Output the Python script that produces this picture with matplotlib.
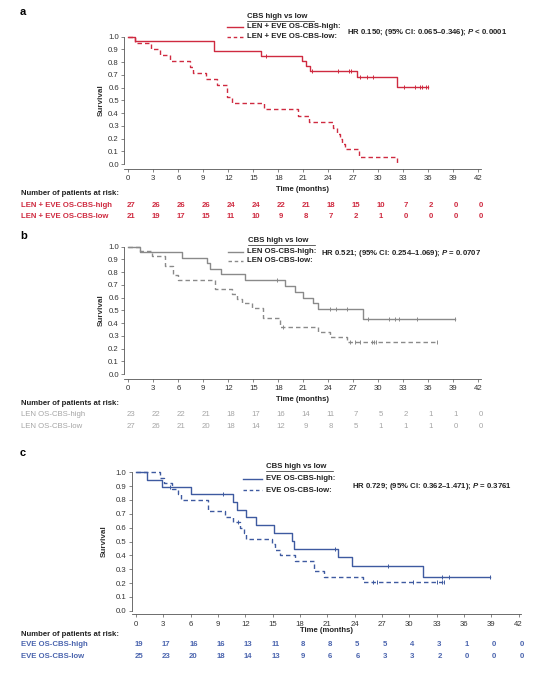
import numpy as np
import matplotlib
matplotlib.use("Agg")
import matplotlib.pyplot as plt
from matplotlib.lines import Line2D
import matplotlib.transforms as mtransforms

plt.rcParams['font.family'] = ['Liberation Sans', 'DejaVu Sans']
plt.rcParams['mathtext.fontset'] = 'custom'
plt.rcParams['mathtext.it'] = 'Liberation Sans:italic:bold'
plt.rcParams['mathtext.rm'] = 'Liberation Sans'

# ---------------- data ----------------
risk_times = list(range(0, 43, 3))

# Panel a: LEN + EVE
a_high_t = [0, 0.8, 10.3, 15.9, 20.9, 21.3, 21.8, 27.5, 32.2, 36.0]
a_high_s = [1.0, 0.963, 0.889, 0.852, 0.811, 0.771, 0.730, 0.686, 0.602, 0.602]
a_high_c = [16.5, 22.1, 25.2, 26.5, 26.7, 27.8, 28.6, 29.4, 33.1, 34.4, 35.0, 35.3, 35.7, 36.0]
a_low_t = [0, 0.8, 2.7, 3.8, 5.0, 7.4, 7.8, 9.3, 10.7, 11.8, 12.5, 16.3, 20.4, 21.7,
           24.6, 25.1, 25.4, 25.7, 26.0, 27.7, 32.2]
a_low_s = [1.0, 0.952, 0.905, 0.857, 0.810, 0.762, 0.714, 0.667, 0.619, 0.524, 0.476, 0.429,
           0.381, 0.333, 0.286, 0.238, 0.196, 0.155, 0.115, 0.058, 0.0]
a_low_c = []
a_risk_high = [27, 26, 26, 26, 24, 24, 22, 21, 18, 15, 10, 7, 2, 0, 0]
a_risk_low = [21, 19, 17, 15, 11, 10, 9, 8, 7, 2, 1, 0, 0, 0, 0]

# Panel b: LEN
b_high_t = [0, 1.4, 6.4, 9.4, 9.8, 11.1, 14.0, 18.8, 20.0, 21.0, 22.2, 22.8, 28.2, 39.2]
b_high_s = [1.0, 0.957, 0.913, 0.870, 0.826, 0.783, 0.739, 0.693, 0.647, 0.601, 0.555, 0.508, 0.435, 0.435]
b_high_c = [17.8, 24.2, 24.9, 26.2, 28.8, 31.3, 32.0, 32.5, 34.7, 39.2]
b_low_t = [0, 1.4, 2.8, 4.4, 5.4, 6.0, 10.4, 12.4, 13.0, 13.6, 14.8, 16.2, 18.2, 22.8, 24.2, 26.2, 37.0]
b_low_s = [1.0, 0.963, 0.926, 0.852, 0.778, 0.741, 0.667, 0.630, 0.593, 0.556, 0.519, 0.444,
           0.370, 0.330, 0.291, 0.250, 0.250]
b_low_c = [18.6, 26.6, 27.2, 27.8, 29.3, 29.5, 29.7, 37.0]
b_risk_high = [23, 22, 22, 21, 18, 17, 16, 14, 11, 7, 5, 2, 1, 1, 0]
b_risk_low = [27, 26, 21, 20, 18, 14, 12, 9, 8, 5, 1, 1, 1, 0, 0]

# Panel c: EVE
c_high_t = [0, 1.2, 2.9, 6.0, 10.6, 11.05, 12.1, 13.2, 15.1, 17.1, 17.3, 22.2, 23.7, 31.5, 38.9]
c_high_s = [1.0, 0.947, 0.895, 0.842, 0.786, 0.730, 0.674, 0.618, 0.562, 0.506, 0.449, 0.385, 0.321, 0.241, 0.241]
c_high_c = [3.7, 9.6, 21.8, 27.7, 33.6, 34.4, 38.9]
c_low_t = [0, 2.6, 3.1, 3.9, 4.6, 4.9, 7.9, 9.8, 10.6, 11.4, 11.9, 12.1, 14.9, 15.3, 15.8,
           17.5, 19.5, 20.6, 24.9, 33.8]
c_low_s = [1.0, 0.96, 0.92, 0.88, 0.84, 0.80, 0.72, 0.68, 0.64, 0.60, 0.56, 0.52, 0.48, 0.44,
           0.40, 0.36, 0.29, 0.245, 0.204, 0.204]
c_low_c = [11.2, 26.0, 26.4, 30.4, 33.0, 33.6, 33.8]
c_risk_high = [19, 17, 16, 16, 13, 11, 8, 8, 5, 5, 4, 3, 1, 0, 0]
c_risk_low = [25, 23, 20, 18, 14, 13, 9, 6, 6, 3, 3, 2, 0, 0, 0]

panels = [
    dict(letter='a', color='#cf2a40', tcolor='#cf2a40', rowbold=True,
         high=(a_high_t, a_high_s, a_high_c), low=(a_low_t, a_low_s, a_low_c),
         risk=(a_risk_high, a_risk_low),
         labels=('LEN + EVE OS-CBS-high:', 'LEN + EVE OS-CBS-low:'),
         rows=('LEN + EVE OS-CBS-high', 'LEN + EVE OS-CBS-low'),
         hr=r'HR 0.150; (95% CI: 0.065–0.346); $\it{P}$ < 0.0001'),
    dict(letter='b', color='#8a8a8a', tcolor='#a5a5a5', rowbold=False,
         high=(b_high_t, b_high_s, b_high_c), low=(b_low_t, b_low_s, b_low_c),
         risk=(b_risk_high, b_risk_low),
         labels=('LEN OS-CBS-high:', 'LEN OS-CBS-low:'),
         rows=('LEN OS-CBS-high', 'LEN OS-CBS-low'),
         hr=r'HR 0.521; (95% CI: 0.254–1.069); $\it{P}$ = 0.0707'),
    dict(letter='c', color='#3e5aa0', tcolor='#4a64ae', rowbold=True,
         high=(c_high_t, c_high_s, c_high_c), low=(c_low_t, c_low_s, c_low_c),
         risk=(c_risk_high, c_risk_low),
         labels=('EVE OS-CBS-high:', 'EVE OS-CBS-low:'),
         rows=('EVE OS-CBS-high', 'EVE OS-CBS-low'),
         hr=r'HR 0.729; (95% CI: 0.362–1.471); $\it{P}$ = 0.3761'),
]

# ---------------- layout (pixels) ----------------
W, H = 537, 681
def fx(px): return px / W
def fy(py): return 1 - py / H

layout = [
    dict(ax=(124.1, 34.2, 480.8, 168.5), xlim=(-0.5, 42.3), ylim=(-0.035, 1.02),
         letter=(20, 12), title=(247, 16.7), leg=(226.7, 243, 246.7, 26.7, 36.7),
         hr=(346.7, 32.5), ylab=(101, 100), time=190, hdr=193.7, r1=205.8, r2=216.8),
    dict(ax=(124.1, 244.2, 480.8, 378.5), xlim=(-0.5, 42.3), ylim=(-0.035, 1.02),
         letter=(20, 236), title=(247.7, 240), leg=(228, 243, 246.7, 251.7, 261.0),
         hr=(320.7, 253.3), ylab=(101, 310), time=399.5, hdr=403.5, r1=414.5, r2=426.5),
    dict(ax=(131.7, 469.5, 521.4, 614.2), xlim=(-0.47, 42.3), ylim=(-0.025, 1.02),
         letter=(20, 453), title=(265.7, 466.7), leg=(243, 261.7, 265.7, 479, 490),
         hr=(351.7, 486.7), ylab=(104, 541), time=631, hdr=634, r1=644.7, r2=656.7),
]

fig = plt.figure(figsize=(W / 100, H / 100), dpi=100)
FS = 5.6
DASH = (0, (3.2, 2.2))

for p, L in zip(panels, layout):
    x0, y0, x1, y1 = L['ax']
    ax = fig.add_axes([fx(x0), fy(y1), (x1 - x0) / W, (y1 - y0) / H])
    ax.set_xlim(*L['xlim'])
    ax.set_ylim(*L['ylim'])
    for s in ['top', 'right']:
        ax.spines[s].set_visible(False)
    for s in ['left', 'bottom']:
        ax.spines[s].set_color('#555555')
        ax.spines[s].set_linewidth(0.6)
    ax.spines['left'].set_bounds(0, 1.0)
    ax.spines['bottom'].set_bounds(L['xlim'][0], 42.3)
    ax.set_xticks(risk_times)
    ax.set_yticks(np.round(np.arange(0, 1.01, 0.1), 1))
    ax.set_yticklabels([f'{v:.1f}' for v in np.arange(0, 1.01, 0.1)])
    ax.tick_params(axis='both', direction='out', length=2.2, width=0.5, color='#555555',
                   labelsize=FS, labelcolor='#333333', pad=1.5)
    ax.tick_params(axis='x', pad=2.5)

    for key, ls in (('high', '-'), ('low', DASH)):
        t, s, c = p[key]
        ax.step(t, s, where='post', color=p['color'], lw=1.0, linestyle=ls)
        if c:
            cy = [s[np.searchsorted(t, ci, side='right') - 1] for ci in c]
            ax.plot(c, cy, linestyle='none', marker='|', markersize=3.5,
                    markeredgewidth=0.7, color=p['color'])

    # panel letter
    fig.text(fx(L['letter'][0]), fy(L['letter'][1]), p['letter'], fontsize=8,
             fontweight='bold', va='center', ha='left')
    # legend title with underline
    tx, ty = L['title']
    fig.text(fx(tx), fy(ty), 'CBS high vs low', fontsize=FS, fontweight='bold',
             va='center', ha='left', color='#222222')
    fig.add_artist(Line2D([fx(tx), fx(tx + 67)], [fy(ty + 4.5), fy(ty + 4.5)],
                          color='#222222', lw=0.5, transform=fig.transFigure))
    lx0, lx1, ltx, ly1, ly2 = L['leg']
    fig.add_artist(Line2D([fx(lx0), fx(lx1)], [fy(ly1), fy(ly1)], color=p['color'], lw=1.0,
                          transform=fig.transFigure))
    fig.add_artist(Line2D([fx(lx0), fx(lx1)], [fy(ly2), fy(ly2)], color=p['color'], lw=1.0,
                          linestyle=(0, (2.5, 2.0)), transform=fig.transFigure))
    fig.text(fx(ltx), fy(ly1), p['labels'][0], fontsize=FS, fontweight='bold', va='center',
             ha='left', color='#222222')
    fig.text(fx(ltx), fy(ly2), p['labels'][1], fontsize=FS, fontweight='bold', va='center',
             ha='left', color='#222222')
    fig.text(fx(L['hr'][0]), fy(L['hr'][1]), p['hr'], fontsize=FS, fontweight='bold',
             va='center', ha='left', color='#222222')

    # axis labels
    fig.text(fx(L['ylab'][0]), fy(L['ylab'][1]), 'Survival', fontsize=FS + 0.3, rotation=90,
             va='center', ha='center', fontweight='bold', color='#333333')
    fig.text(fx((x0 + x1) / 2), fy(L['time']), 'Time (months)', fontsize=FS, fontweight='bold',
             va='center', ha='center', color='#222222')

    # risk table
    fig.text(fx(21), fy(L['hdr']), 'Number of patients at risk:', fontsize=FS,
             fontweight='bold', va='center', ha='left', color='#222222')
    tr = mtransforms.blended_transform_factory(ax.transData, fig.transFigure)
    wt = 'bold' if p['rowbold'] else 'normal'
    for row_lbl, vals, ry in ((p['rows'][0], p['risk'][0], L['r1']),
                              (p['rows'][1], p['risk'][1], L['r2'])):
        fig.text(fx(21), fy(ry), row_lbl, fontsize=FS, fontweight=wt, va='center', ha='left',
                 color=p['tcolor'])
        for tt, v in zip(risk_times, vals):
            ax.text(tt + 0.3, fy(ry), str(v), transform=tr, fontsize=FS, fontweight=wt,
                    va='center', ha='center', color=p['tcolor'], clip_on=False)

fig.savefig('out.png', dpi=100)
